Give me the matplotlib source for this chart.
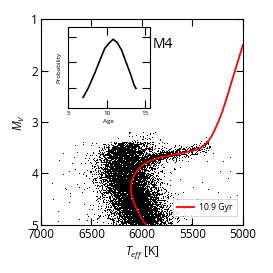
import numpy as np
import matplotlib
matplotlib.use("Agg")
import matplotlib.pyplot as plt

plt.rcParams['font.family'] = ['Open Sans', 'DejaVu Sans']
plt.rcParams['mathtext.fontset'] = 'custom'
plt.rcParams['mathtext.it'] = 'Open Sans:italic'
plt.rcParams['mathtext.rm'] = 'Open Sans'

# isochrone (10.9 Gyr)
iso_teff = [5960, 6010, 6050, 6085, 6100, 6110, 6105, 6090, 6060, 6030, 5990, 5950,
            5870, 5800, 5720, 5650, 5570, 5500, 5450, 5420, 5390, 5360, 5335, 5312,
            5290, 5268, 5245, 5205, 5172, 5140, 5110, 5079, 5047, 5016, 5000]
iso_mv = [5.0, 4.85, 4.7, 4.55, 4.42, 4.3, 4.18, 4.08, 3.98, 3.9, 3.83, 3.78,
          3.72, 3.68, 3.65, 3.62, 3.59, 3.56, 3.53, 3.5, 3.46, 3.41, 3.35, 3.28,
          3.2, 3.1, 3.0, 2.8, 2.6, 2.4, 2.2, 2.0, 1.8, 1.6, 1.5]

# main sequence / turnoff cloud: centre, width and counts per 0.1 mag bin
ms_mv = [3.45, 3.55, 3.65, 3.75, 3.85, 3.95, 4.05, 4.15, 4.25, 4.35, 4.45, 4.55, 4.65, 4.75, 4.85, 4.95]
ms_teff = [6140, 6155, 6165, 6175, 6180, 6180, 6175, 6165, 6150, 6130, 6110, 6090, 6070, 6045, 6020, 5995]
ms_sigma = [95, 105, 110, 110, 110, 110, 110, 110, 110, 110, 110, 115, 115, 120, 120, 125]
ms_count = [200, 400, 500, 560, 580, 600, 620, 620, 640, 640, 660, 660, 680, 680, 700, 700]

# subgiant branch ridge and counts
sgb_teff = [6000, 5900, 5800, 5700, 5600, 5500, 5400, 5330]
sgb_mv = [3.76, 3.7, 3.66, 3.62, 3.58, 3.54, 3.49, 3.43]
sgb_count = [170, 160, 130, 105, 80, 60, 35, 12]

# sparse field stars
field_teff = [6663, 6581, 6508, 6779, 6647, 6819, 6564, 6696, 6720, 6663, 6621, 6587,
              6779, 6465, 6515, 6482, 6597, 6884, 6713, 6720, 6829, 6449, 6416, 6515,
              6548, 6350, 6383, 6894, 6830, 6760, 6440, 6620,
              5228, 5129, 5409, 5492, 5344, 5245, 5129, 5624, 5591, 5657, 5459, 5327,
              5096, 5211, 5508, 5591, 5409, 5723, 5756, 5673, 5542, 5360, 5195, 5129,
              5063, 5300, 5480, 5620, 5150, 5700, 5560, 5380]
field_mv = [3.47, 3.45, 3.46, 3.62, 3.61, 3.75, 3.72, 3.82, 3.97, 3.93, 4.01, 4.03,
            4.03, 3.87, 3.97, 4.13, 4.37, 4.51, 4.46, 4.58, 4.74, 4.26, 4.38, 4.64,
            4.81, 4.71, 4.84, 4.2, 4.95, 4.3, 4.55, 4.9,
            3.98, 3.97, 4.19, 4.29, 4.32, 4.38, 4.48, 4.13, 4.38, 4.51, 4.51, 4.61,
            4.64, 4.71, 4.74, 4.84, 4.81, 4.0, 4.22, 3.8, 3.77, 3.77, 3.77, 3.7,
            4.44, 3.62, 3.65, 3.9, 4.1, 4.6, 4.9, 3.6]

# age probability distribution for the inset
age = [6.95, 7.6, 8.47, 9.12, 9.77, 10.32, 10.84, 11.36, 11.94, 12.58, 13.14, 13.57, 13.8]
prob = [0.05, 0.19, 0.43, 0.63, 0.82, 0.90, 0.96, 0.91, 0.79, 0.58, 0.40, 0.24, 0.19]

rng = np.random.default_rng(3)
xs, ys = [], []
for mv, t, sg, n in zip(ms_mv, ms_teff, ms_sigma, ms_count):
    nw = n // 5
    xs.append(t + rng.normal(0, sg, n - nw))
    ys.append(mv + rng.uniform(-0.05, 0.05, n - nw))
    # wider wings, makes fuzzy edges
    xs.append(t + rng.normal(0, sg * 1.6, nw))
    ys.append(mv + rng.uniform(-0.05, 0.05, nw))
    # a few redder binaries
    nb = n // 12
    xs.append(t - 170 + rng.normal(0, 110, nb))
    ys.append(mv - 0.15 + rng.uniform(-0.1, 0.1, nb))
for i in range(len(sgb_teff) - 1):
    n = sgb_count[i]
    tt = rng.uniform(sgb_teff[i + 1], sgb_teff[i], n)
    mm = np.interp(tt, sgb_teff[::-1], sgb_mv[::-1])
    xs.append(tt)
    ys.append(mm + rng.normal(0.02, 0.055, n))
xs = np.concatenate(xs)
ys = np.concatenate(ys)

fig = plt.figure(figsize=(2.73, 2.73), dpi=100)
ax = fig.add_axes([0.150, 0.176, 0.740, 0.754])
ax.plot(xs, ys, ',', color='black')
ax.plot(field_teff, field_mv, ',', color='black')
ax.plot(iso_teff, iso_mv, color='red', lw=1.3, label='10.9 Gyr')
ax.set_xlim(7000, 5000)
ax.set_ylim(5, 1)
ax.set_xticks([7000, 6500, 6000, 5500, 5000])
ax.set_yticks([1, 2, 3, 4, 5])
ax.tick_params(direction='in', top=True, right=True, length=5, width=0.8, labelsize=8.5, pad=2)
for s in ax.spines.values():
    s.set_linewidth(0.8)
ax.set_xlabel(r'$T_{eff}$ [K]', fontsize=8.5, labelpad=2)
ax.set_ylabel(r'$M_V$', fontsize=8.5, labelpad=3)
leg = ax.legend(loc='lower right', fontsize=6.2, handlelength=2.0, handletextpad=0.6,
                frameon=True, fancybox=False, borderpad=0.45, bbox_to_anchor=(0.99, 0.025))
leg.get_frame().set_edgecolor('#bbbbbb')
leg.get_frame().set_linewidth(0.5)
ax.text((153 - 41) / 202, 1 - (44 - 19) / 206, 'M4', transform=ax.transAxes,
        fontsize=10, va='center')

ins = fig.add_axes([0.249, 0.604, 0.300, 0.297])
ins.plot(age, prob, color='black', lw=1.2)
ins.set_xlim(5, 15.6)
ins.set_ylim(-0.118, 1.152)
ins.set_xticks([5, 10, 15])
ins.set_yticks([0.2, 0.6, 1.0])
ins.set_yticklabels([])
ins.tick_params(direction='in', top=True, right=True, length=6, width=0.8, labelsize=4.5, pad=2)
for s in ins.spines.values():
    s.set_linewidth(0.8)
ins.set_xlabel('Age', fontsize=4.5, labelpad=2)
ins.set_ylabel('Probability', fontsize=4.5, labelpad=3)

fig.savefig('out.png', dpi=100)
